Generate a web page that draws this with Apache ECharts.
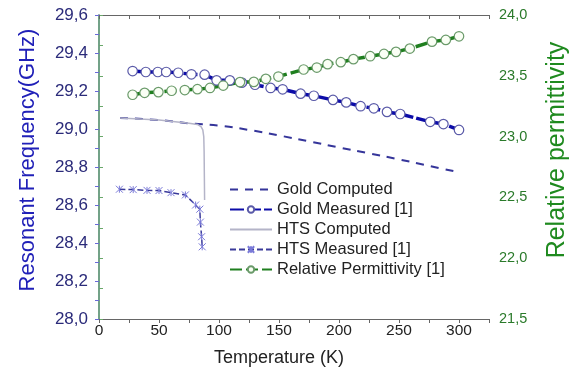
<!DOCTYPE html>
<html>
<head>
<meta charset="utf-8">
<script src="https://cdn.jsdelivr.net/npm/echarts@6/dist/echarts.min.js"></script>
<style>
  html, body { margin: 0; padding: 0; background: #fff; }
  #chart { width: 581px; height: 373px; }
</style>
</head>
<body>
<div id="chart"></div>
<script>
// Temperature (K) / value pairs
const goldComputedT = [17.5, 50, 75, 100, 125, 150, 175, 200, 225, 250, 275, 298];
const goldComputedF = [29.058, 29.047, 29.03, 29.018, 28.995, 28.966, 28.935, 28.903, 28.872, 28.84, 28.806, 28.775];

const goldMeasuredT = [28, 39, 49, 56, 66, 77, 88, 98, 109, 119, 130, 143, 153, 168, 179, 195, 206, 218, 229, 240, 251, 276, 287, 300];
const goldMeasuredF = [29.305, 29.30, 29.30, 29.30, 29.296, 29.288, 29.286, 29.256, 29.256, 29.244, 29.233, 29.216, 29.209, 29.186, 29.175, 29.153, 29.14, 29.12, 29.109, 29.09, 29.079, 29.038, 29.026, 28.995];

const htsComputedT = [17.5, 50, 75, 82, 85, 86.5, 87.3, 87.6, 87.8, 88];
const htsComputedF = [29.058, 29.047, 29.03, 29.024, 29.012, 28.995, 28.96, 28.88, 28.75, 28.626];

const htsMeasuredT = [17, 28.5, 40, 50, 60, 72, 80.5, 84, 84.5, 85.5, 86];
const htsMeasuredF = [28.683, 28.681, 28.677, 28.676, 28.665, 28.653, 28.60, 28.578, 28.51, 28.433, 28.38];

const permittivityT = [28, 38, 49.5, 60.5, 71.5, 82, 92.5, 103.5, 117.5, 129, 139, 149.5, 170.5, 181.5, 190.5, 201.5, 212, 226, 237.5, 247.5, 259, 277.5, 289, 300];
const permittivityV = [23.344, 23.36, 23.366, 23.377, 23.383, 23.39, 23.40, 23.42, 23.448, 23.45, 23.475, 23.494, 23.552, 23.568, 23.596, 23.612, 23.637, 23.661, 23.68, 23.697, 23.724, 23.781, 23.795, 23.825];

const seriesNames = ['Gold Computed', 'Gold Measured [1]', 'HTS Computed', 'HTS Measured [1]', 'Relative Permittivity [1]'];

const pairs = (xs, ys) => xs.map((x, i) => [x, ys[i]]);
const FONT = 'Liberation Sans';
const asterisk = 'path://M0,0L10,10M10,0L0,10M5,0L5,10';

// ticks every half step, labels only on full steps
const xLabel = (v) => (Math.round(v) % 50 === 0 && v < 320 ? String(Math.round(v)) : '');
const leftLabel = (v) => (Math.round(v * 10) % 2 === 0 ? v.toFixed(1).replace('.', ',') : '');
const rightLabel = (v) => (Math.round(v * 4) % 2 === 0 ? v.toFixed(1).replace('.', ',') : '');

const chart = echarts.init(document.getElementById('chart'));
chart.setOption({
  animation: false,
  textStyle: { fontFamily: FONT },
  grid: { left: 99, right: 92, top: 15, bottom: 54 },
  legend: {
    orient: 'vertical',
    left: 224,
    top: 176,
    itemWidth: 42,
    itemHeight: 8,
    itemGap: 3,
    data: [
      { name: seriesNames[0], itemStyle: { opacity: 0 } },
      { name: seriesNames[1] },
      { name: seriesNames[2], itemStyle: { opacity: 0 } },
      { name: seriesNames[3] },
      { name: seriesNames[4] }
    ],
    textStyle: { fontFamily: FONT, fontSize: 16.5, color: '#222', lineHeight: 14 }
  },
  xAxis: [
    {
      type: 'value',
      min: 0,
      max: 325,
      interval: 25,
      name: 'Temperature (K)',
      nameLocation: 'middle',
      nameGap: 30,
      nameTextStyle: { fontSize: 18, color: '#222', padding: [0, 30, 0, 0] },
      axisLine: { lineStyle: { color: '#666', width: 1 } },
      axisTick: { inside: false, length: 4, lineStyle: { color: '#666' } },
      axisLabel: { fontSize: 15.5, color: '#222', margin: 4, formatter: xLabel },
      splitLine: { show: false }
    },
    {
      type: 'value',
      position: 'top',
      min: 0,
      max: 325,
      interval: 25,
      axisLine: { lineStyle: { color: '#666', width: 1 } },
      axisTick: { inside: true, length: 4, lineStyle: { color: '#666' } },
      axisLabel: { show: false },
      splitLine: { show: false }
    }
  ],
  yAxis: [
    {
      type: 'value',
      min: 28,
      max: 29.6,
      interval: 0.1,
      name: 'Resonant Frequency(GHz)',
      nameLocation: 'middle',
      nameGap: 60,
      nameTextStyle: { fontSize: 22, color: '#2020b8', padding: [0, 0, 0, 14] },
      axisLine: { show: true, lineStyle: { color: '#6a6ad8', width: 1.5 } },
      axisTick: { inside: false, length: 4, lineStyle: { color: '#6a6ad8' } },
      axisLabel: { fontSize: 17, color: '#2b2b7a', margin: 11, formatter: leftLabel },
      splitLine: { show: false }
    },
    {
      type: 'value',
      position: 'right',
      min: 21.5,
      max: 24,
      interval: 0.25,
      name: 'Relative permittivity',
      nameLocation: 'middle',
      nameGap: 56,
      nameTextStyle: { fontSize: 25, color: '#1f8a1f', padding: [0, 0, 0, 34] },
      axisLine: { show: true, lineStyle: { color: '#6aa86a', width: 1.5 } },
      axisTick: { inside: false, length: 4, lineStyle: { color: '#6aa86a' } },
      axisLabel: { fontSize: 14.5, color: '#2a7a2a', margin: 10, formatter: rightLabel },
      splitLine: { show: false }
    }
  ],
  series: [
    {
      name: seriesNames[0],
      type: 'line',
      data: pairs(goldComputedT, goldComputedF),
      smooth: true,
      showSymbol: false,
      lineStyle: { color: '#35359a', width: 2, type: [8, 7] },
      itemStyle: { color: '#35359a' }
    },
    {
      name: seriesNames[1],
      type: 'line',
      data: pairs(goldMeasuredT, goldMeasuredF),
      symbol: 'circle',
      symbolSize: 9.5,
      lineStyle: { color: '#0c0ca8', width: 3.5, type: [14, 3] },
      itemStyle: { color: '#fff', borderColor: '#5a5aa8', borderWidth: 1.2 }
    },
    {
      name: seriesNames[2],
      type: 'line',
      data: pairs(htsComputedT, htsComputedF),
      showSymbol: false,
      lineStyle: { color: '#b4b4c8', width: 1.5 },
      itemStyle: { color: '#b4b4c8' }
    },
    {
      name: seriesNames[3],
      type: 'line',
      data: pairs(htsMeasuredT, htsMeasuredF),
      symbol: asterisk,
      symbolSize: 7,
      lineStyle: { color: '#3a3a9a', width: 1.5, type: [6, 3] },
      itemStyle: { color: 'none', borderColor: '#7a7ad8', borderWidth: 1 }
    },
    {
      name: seriesNames[4],
      type: 'line',
      yAxisIndex: 1,
      data: pairs(permittivityT, permittivityV),
      symbol: 'circle',
      symbolSize: 9.5,
      lineStyle: { color: '#1f7f1f', width: 3.5, type: [12, 4] },
      itemStyle: { color: '#fafff5', borderColor: '#6a9a6a', borderWidth: 1.2 }
    }
  ]
});
</script>
</body>
</html>
